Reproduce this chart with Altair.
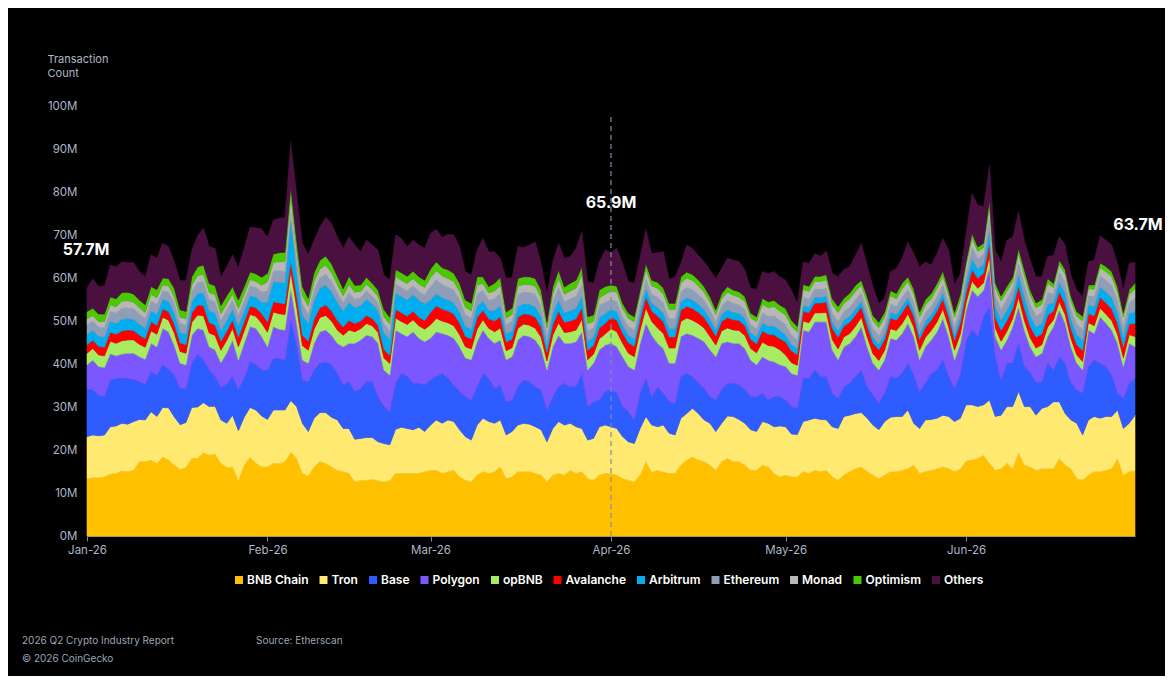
import altair as alt
import pandas as pd

# ---------------- data (values in millions) ----------------
dates = pd.date_range("2026-01-01", "2026-06-30", freq="D")

series_names = ["BNB Chain", "Tron", "Base", "Polygon", "opBNB", "Avalanche",
                "Arbitrum", "Ethereum", "Monad", "Optimism", "Others"]
series_colors = ["#FFC000", "#FFE970", "#2F5CFF", "#7B57FF", "#A6EB62", "#FF0000",
                 "#00AEEF", "#8E9DB8", "#B7B7B7", "#4CC800", "#4A1040"]

# top edge of the whole stack
total_top = [
    57.7, 59.8, 58.0, 58.2, 63.0, 62.6, 63.8, 63.6, 63.6, 61.5, 60.3, 65.4, 64.6, 68.1, 67.3, 63.8, 59.4, 59.4, 66.5, 69.8, 71.6, 67.3, 66.9, 60.3, 62.6, 65.4, 62.5, 66.9, 71.8, 71.7, 71.4,
    69.5, 73.5, 73.9, 74.1, 91.5, 79.7, 68.1, 65.4, 68.8, 71.9, 74.1, 72.7, 69.6, 66.9, 69.6, 67.7, 66.1, 68.8, 67.7, 66.5, 60.7, 59.6, 70.0, 69.2, 67.3, 68.8, 67.7, 66.9,
    70.4, 71.3, 69.5, 70.2, 70.0, 67.3, 61.5, 60.7, 66.5, 69.2, 66.1, 66.1, 64.6, 59.9, 60.1, 67.3, 67.1, 67.7, 68.4, 63.4, 56.4, 63.8, 68.1, 64.6, 65.0, 66.9, 70.8, 59.1, 58.8, 63.8, 66.5,
    65.9, 66.9, 63.4, 59.1, 58.8, 65.0, 71.3, 65.7, 65.9, 66.1, 59.7, 60.3, 63.4, 67.7, 66.9, 65.3, 63.8, 61.9, 59.9, 62.2, 64.6, 64.2, 63.8, 61.9, 57.6, 57.4, 61.5, 61.0, 61.5, 60.3,
    59.5, 57.2, 54.1, 63.8, 63.4, 65.7, 65.1, 66.3, 61.1, 60.3, 62.0, 62.6, 65.3, 68.1, 63.0, 58.0, 54.1, 55.3, 61.5, 62.2, 64.6, 68.4, 65.7, 62.6, 63.8, 63.0, 65.7, 69.2, 66.5, 58.5, 61.0,
    70.5, 79.7, 77.0, 76.6, 86.3, 66.5, 63.8, 68.8, 69.6, 75.4, 68.8, 64.2, 60.3, 60.3, 65.0, 65.3, 69.6, 67.7, 60.7, 57.2, 55.7, 63.8, 64.2, 69.8, 68.8, 67.7, 63.4, 57.2, 63.4, 63.7,
]
# top edges of the four big layers
bnb_top = [
    13.4, 13.6, 13.6, 13.8, 14.4, 14.6, 15.2, 15.0, 15.3, 17.3, 17.3, 17.7, 16.9, 18.4, 17.7, 16.5, 15.5, 16.0, 18.1, 18.1, 19.4, 18.8, 19.1, 16.9, 16.0, 16.1, 13.0, 16.5, 18.3, 17.0, 16.1,
    16.1, 16.9, 16.9, 17.3, 19.5, 18.1, 14.6, 14.0, 16.1, 17.3, 16.9, 16.1, 15.3, 15.0, 14.6, 12.6, 13.0, 13.0, 13.2, 12.9, 12.6, 12.9, 14.6, 14.6, 14.6, 14.6, 14.6, 15.0,
    15.3, 15.3, 14.6, 15.0, 15.3, 13.8, 13.0, 12.6, 14.2, 15.0, 14.6, 15.0, 16.1, 13.4, 13.8, 15.0, 15.0, 15.0, 14.6, 14.2, 12.6, 14.2, 14.6, 14.2, 15.3, 14.6, 15.0, 13.4, 13.0, 14.2, 14.6,
    14.6, 14.2, 13.4, 13.0, 12.6, 14.2, 17.3, 14.9, 15.3, 14.9, 14.6, 14.6, 16.5, 17.7, 18.4, 17.7, 17.3, 16.5, 15.3, 17.3, 18.1, 17.3, 17.3, 16.5, 15.3, 15.3, 16.5, 16.1, 14.6, 13.8,
    14.2, 13.8, 13.8, 15.0, 14.6, 15.3, 15.0, 15.3, 13.8, 13.0, 14.2, 15.0, 15.7, 16.1, 15.0, 14.2, 13.4, 14.2, 15.0, 15.0, 15.3, 15.7, 16.5, 14.6, 15.0, 15.3, 15.7, 16.1, 15.7, 15.0, 15.6,
    17.5, 17.7, 18.1, 18.8, 16.9, 15.3, 15.7, 16.9, 15.7, 19.4, 16.5, 16.1, 15.3, 15.7, 15.7, 15.7, 18.1, 16.5, 15.7, 13.4, 13.0, 14.2, 15.0, 15.0, 15.3, 15.7, 18.1, 14.2, 15.0, 15.3,
]
tron_top = [
    23.1, 23.5, 23.3, 23.5, 25.4, 25.6, 26.2, 26.0, 26.6, 27.1, 27.0, 28.9, 27.8, 29.9, 29.8, 27.7, 25.9, 26.4, 29.9, 30.0, 31.0, 30.1, 30.2, 27.0, 26.2, 28.1, 24.5, 27.6, 29.9, 29.3, 27.9,
    27.1, 29.3, 29.3, 29.3, 31.5, 30.1, 26.2, 24.3, 27.4, 28.7, 28.7, 27.6, 27.0, 25.0, 25.0, 22.5, 22.7, 22.9, 22.9, 21.9, 21.5, 21.2, 24.8, 25.3, 25.0, 24.7, 25.3, 24.3,
    25.8, 27.0, 26.2, 27.0, 26.6, 24.7, 23.1, 22.3, 25.8, 27.4, 26.6, 26.2, 27.0, 23.5, 24.3, 25.8, 26.2, 26.0, 25.4, 24.7, 21.9, 25.0, 26.6, 25.8, 26.2, 25.4, 25.0, 22.3, 22.7, 25.4, 25.8,
    25.4, 25.0, 23.1, 21.9, 21.5, 25.0, 27.8, 25.8, 25.4, 25.8, 23.9, 23.5, 27.4, 28.5, 29.7, 28.5, 27.0, 26.2, 24.3, 26.2, 27.9, 27.8, 27.1, 26.2, 24.7, 24.3, 26.6, 26.2, 25.4, 25.6,
    25.4, 23.7, 23.6, 26.6, 27.0, 27.4, 27.1, 27.0, 25.4, 25.0, 27.8, 28.1, 28.5, 28.7, 27.4, 25.8, 24.7, 26.6, 27.6, 27.8, 27.8, 29.3, 26.2, 25.0, 27.0, 27.1, 27.4, 28.1, 27.8, 26.6, 27.4,
    30.5, 30.5, 30.1, 30.5, 31.6, 27.8, 28.1, 30.1, 30.1, 33.6, 30.1, 30.1, 28.1, 29.7, 30.1, 31.2, 31.2, 28.5, 27.0, 26.2, 23.5, 27.0, 27.8, 27.4, 27.8, 27.8, 29.3, 25.0, 26.2, 28.1,
]
base_top = [
    34.2, 34.0, 32.8, 32.4, 36.3, 36.7, 36.7, 36.7, 36.4, 35.9, 35.3, 38.2, 37.4, 39.8, 38.8, 37.4, 34.3, 34.3, 40.2, 42.3, 40.9, 38.6, 37.1, 34.6, 35.3, 37.1, 34.1, 36.7, 40.5, 39.8, 38.6,
    38.6, 41.3, 41.3, 40.9, 50.2, 44.8, 36.3, 35.9, 38.6, 40.2, 40.5, 39.8, 37.8, 35.1, 35.9, 33.6, 34.3, 35.9, 35.9, 32.4, 30.1, 28.9, 35.5, 37.8, 37.1, 35.5, 35.5, 35.1,
    36.3, 37.1, 37.8, 36.7, 35.1, 33.6, 32.4, 31.6, 34.7, 37.8, 36.7, 34.3, 35.1, 31.2, 31.6, 34.7, 36.3, 35.9, 34.7, 34.0, 29.3, 32.4, 34.7, 35.5, 34.7, 34.7, 37.8, 30.1, 31.2, 31.6, 33.6,
    34.0, 33.2, 30.1, 28.9, 27.0, 33.2, 36.7, 32.4, 34.7, 33.2, 31.2, 30.9, 37.1, 37.8, 37.1, 35.5, 34.3, 32.4, 31.6, 34.0, 35.5, 35.5, 35.1, 34.0, 32.4, 32.4, 33.2, 31.6, 32.4, 32.4,
    31.6, 30.1, 29.7, 36.7, 36.7, 38.6, 37.1, 37.1, 33.2, 32.0, 34.7, 35.5, 37.1, 38.6, 34.7, 32.8, 30.9, 33.2, 37.1, 36.7, 37.8, 40.2, 37.4, 33.6, 35.5, 37.8, 38.6, 41.0, 37.1, 34.3, 37.5,
    45.5, 47.9, 46.4, 51.0, 53.3, 41.7, 36.3, 40.2, 40.2, 45.0, 39.5, 38.0, 35.7, 35.9, 40.2, 38.6, 41.7, 40.2, 35.5, 34.0, 33.2, 39.4, 40.9, 40.2, 39.4, 37.4, 33.2, 32.0, 35.5, 36.7,
]
polygon_top = [
    39.8, 40.9, 39.4, 39.2, 42.4, 41.9, 42.3, 42.5, 42.5, 41.7, 41.1, 44.8, 44.0, 48.3, 47.5, 44.3, 40.2, 39.8, 46.7, 48.3, 47.9, 44.0, 43.3, 40.3, 42.6, 45.6, 40.9, 44.8, 48.7, 48.3, 46.4,
    44.0, 48.7, 48.1, 47.9, 57.6, 49.5, 40.9, 40.2, 44.8, 47.5, 47.9, 46.7, 44.8, 44.0, 44.8, 44.8, 45.6, 46.7, 46.4, 44.8, 38.6, 37.4, 47.9, 47.1, 46.4, 47.5, 46.0, 45.2,
    46.0, 47.5, 47.1, 46.7, 46.0, 44.0, 41.4, 41.0, 45.2, 47.9, 46.0, 44.8, 45.6, 41.0, 41.7, 45.6, 46.7, 46.4, 45.6, 43.6, 38.6, 44.0, 46.7, 44.8, 44.8, 45.2, 47.5, 38.6, 40.2, 43.3, 44.4,
    44.8, 44.0, 41.7, 39.4, 38.6, 44.8, 49.5, 46.7, 44.8, 43.6, 40.2, 40.2, 46.4, 47.1, 46.7, 46.0, 45.2, 43.3, 41.7, 44.8, 45.2, 44.8, 44.8, 43.6, 40.9, 39.8, 41.7, 40.9, 40.5, 39.8,
    39.4, 37.8, 37.4, 47.9, 47.5, 49.8, 49.8, 49.8, 43.3, 41.0, 44.0, 44.8, 46.4, 48.7, 44.0, 40.2, 38.6, 41.0, 46.0, 45.6, 47.1, 49.5, 46.4, 41.0, 44.0, 45.6, 47.5, 50.6, 46.4, 41.0, 44.7,
    52.5, 57.2, 55.7, 57.2, 62.6, 46.4, 43.3, 45.6, 48.7, 53.3, 47.9, 44.0, 41.7, 42.5, 46.4, 48.7, 52.6, 49.5, 44.0, 40.2, 38.6, 47.9, 47.1, 51.0, 49.5, 47.9, 44.8, 39.4, 44.8, 44.0,
]
# thin layers (own thickness)
opbnb = [
    2.7, 2.7, 2.7, 2.7, 2.9, 2.9, 3.1, 3.1, 3.1, 2.9, 2.8, 2.9, 2.9, 2.6, 2.7, 2.9, 2.7, 2.7, 3.0, 3.1, 3.3, 3.2, 3.3, 2.9, 2.9, 2.7, 3.1, 2.9, 2.8, 2.8, 3.1,
    3.4, 3.4, 3.6, 3.6, 3.9, 3.9, 3.4, 3.0, 3.3, 3.3, 3.4, 3.3, 3.1, 2.7, 3.1, 2.7, 2.6, 2.7, 2.5, 2.5, 2.8, 2.7, 2.8, 2.8, 2.8, 2.8, 2.9, 2.9,
    3.1, 3.1, 2.9, 2.9, 2.9, 2.8, 2.6, 2.5, 2.9, 2.4, 2.3, 2.7, 2.8, 2.1, 2.1, 2.7, 2.6, 2.6, 2.7, 2.6, 2.1, 2.7, 2.9, 2.5, 2.7, 2.7, 2.9, 2.4, 2.1, 2.6, 2.6,
    3.4, 3.5, 3.1, 3.1, 3.1, 3.1, 3.5, 3.2, 3.6, 3.5, 3.5, 3.5, 3.5, 3.6, 3.5, 3.4, 3.2, 3.1, 2.7, 2.9, 3.2, 3.1, 3.0, 3.0, 2.7, 2.8, 3.4, 3.4, 3.6, 3.5,
    2.7, 2.5, 2.3, 2.1, 2.1, 2.1, 2.1, 2.2, 2.4, 2.5, 2.3, 2.3, 2.4, 2.2, 2.3, 2.2, 2.2, 2.2, 2.2, 2.2, 2.3, 2.2, 2.2, 2.2, 2.2, 2.2, 2.3, 2.2, 2.2, 2.2, 2.3,
    1.8, 2.1, 1.9, 1.7, 2.5, 2.0, 2.0, 2.0, 1.9, 2.2, 2.2, 2.1, 2.0, 2.0, 2.2, 1.6, 1.9, 2.0, 1.9, 1.9, 2.0, 1.7, 1.8, 2.0, 2.1, 2.2, 2.1, 2.0, 2.0, 2.4,
]
avalanche = [
    2.0, 1.9, 2.0, 2.0, 2.1, 2.1, 2.3, 2.3, 2.2, 2.1, 2.0, 2.1, 2.1, 1.9, 2.0, 2.1, 2.0, 2.0, 2.2, 2.3, 2.4, 2.4, 2.4, 2.1, 2.1, 2.0, 2.2, 2.1, 2.0, 2.0, 2.2,
    2.4, 2.4, 2.5, 2.5, 2.3, 2.7, 2.4, 2.1, 2.3, 2.3, 2.4, 2.3, 2.2, 1.9, 2.2, 1.9, 1.8, 1.9, 1.7, 1.7, 2.0, 1.9, 2.0, 2.0, 1.9, 2.0, 2.0, 2.0,
    2.9, 2.9, 2.8, 2.7, 2.7, 2.7, 2.4, 2.4, 2.7, 2.2, 2.2, 2.5, 2.6, 2.0, 2.0, 2.6, 2.4, 2.5, 2.6, 2.4, 2.0, 2.5, 2.7, 2.4, 2.5, 2.6, 2.7, 2.2, 2.0, 2.5, 2.4,
    2.6, 2.7, 2.4, 2.4, 2.4, 2.4, 2.6, 2.4, 2.7, 2.7, 2.6, 2.6, 2.6, 2.7, 2.7, 2.6, 2.4, 2.4, 2.1, 2.2, 2.4, 2.4, 2.3, 2.3, 2.1, 2.1, 2.6, 2.6, 2.7, 2.6,
    3.0, 2.7, 2.5, 2.3, 2.3, 2.3, 2.3, 2.4, 2.6, 2.7, 2.5, 2.6, 2.6, 2.4, 2.6, 2.5, 2.5, 2.5, 2.5, 2.4, 2.6, 2.4, 2.5, 2.5, 2.4, 2.4, 2.5, 2.4, 2.4, 2.4, 2.5,
    2.3, 2.6, 2.3, 2.2, 3.1, 2.5, 2.5, 2.5, 2.3, 2.7, 2.8, 2.6, 2.5, 2.5, 2.7, 2.0, 2.3, 2.5, 2.3, 2.4, 2.5, 2.1, 2.3, 2.5, 2.6, 2.7, 2.6, 2.5, 2.5, 3.0,
]
arbitrum = [
    2.4, 2.3, 2.3, 2.4, 2.5, 2.5, 2.7, 2.7, 2.6, 2.5, 2.4, 2.5, 2.5, 2.2, 2.4, 2.5, 2.4, 2.4, 2.6, 2.7, 2.9, 2.8, 2.8, 2.5, 2.5, 2.4, 2.7, 2.5, 2.4, 2.4, 2.6,
    4.6, 4.6, 4.8, 4.9, 10.0, 5.2, 4.6, 4.1, 4.4, 4.5, 4.6, 4.5, 4.2, 3.7, 4.2, 3.7, 3.5, 3.7, 3.3, 3.3, 3.8, 3.7, 3.8, 3.8, 3.8, 3.8, 3.9, 3.9,
    2.8, 2.8, 2.6, 2.6, 2.6, 2.5, 2.3, 2.2, 2.6, 2.1, 2.0, 2.4, 2.5, 1.9, 1.9, 2.4, 2.3, 2.4, 2.4, 2.3, 1.9, 2.4, 2.6, 2.2, 2.4, 2.4, 2.6, 2.1, 1.9, 2.4, 2.3,
    1.9, 2.0, 1.7, 1.7, 1.7, 1.7, 1.9, 1.8, 2.0, 2.0, 1.9, 1.9, 1.9, 2.0, 2.0, 1.9, 1.8, 1.7, 1.5, 1.6, 1.8, 1.7, 1.7, 1.7, 1.5, 1.6, 1.9, 1.9, 2.0, 1.9,
    1.6, 1.5, 1.4, 1.3, 1.3, 1.3, 1.3, 1.3, 1.4, 1.5, 1.4, 1.4, 1.4, 1.3, 1.4, 1.3, 1.3, 1.3, 1.3, 1.3, 1.4, 1.3, 1.3, 1.3, 1.3, 1.3, 1.4, 1.3, 1.3, 1.3, 1.4,
    2.2, 2.5, 2.2, 2.1, 2.9, 2.4, 2.4, 2.4, 2.2, 2.6, 2.7, 2.5, 2.4, 2.4, 2.6, 1.9, 2.2, 2.4, 2.2, 2.3, 2.4, 2.0, 2.1, 2.4, 2.5, 2.6, 2.5, 2.4, 2.4, 2.8,
]
ethereum = [
    2.2, 2.2, 2.2, 2.2, 2.4, 2.4, 2.6, 2.5, 2.5, 2.4, 2.3, 2.4, 2.4, 2.1, 2.2, 2.4, 2.2, 2.2, 2.4, 2.6, 2.7, 2.6, 2.7, 2.4, 2.4, 2.2, 2.5, 2.4, 2.3, 2.3, 2.5,
    2.6, 2.5, 2.7, 2.7, 1.8, 2.9, 2.6, 2.3, 2.4, 2.5, 2.6, 2.5, 2.3, 2.0, 2.3, 2.0, 1.9, 2.0, 1.9, 1.9, 2.1, 2.0, 2.1, 2.1, 2.1, 2.1, 2.1, 2.1,
    3.2, 3.3, 3.1, 3.0, 3.0, 3.0, 2.7, 2.6, 3.0, 2.5, 2.4, 2.8, 2.9, 2.2, 2.3, 2.9, 2.7, 2.8, 2.9, 2.7, 2.2, 2.8, 3.0, 2.6, 2.8, 2.9, 3.0, 2.5, 2.2, 2.8, 2.7,
    2.3, 2.4, 2.1, 2.1, 2.1, 2.1, 2.4, 2.2, 2.4, 2.4, 2.4, 2.4, 2.4, 2.4, 2.4, 2.3, 2.2, 2.1, 1.9, 2.0, 2.2, 2.1, 2.0, 2.1, 1.9, 1.9, 2.3, 2.3, 2.4, 2.4,
    2.4, 2.2, 2.0, 1.9, 1.9, 1.9, 1.9, 2.0, 2.2, 2.2, 2.0, 2.1, 2.2, 1.9, 2.1, 2.0, 2.0, 2.0, 2.0, 1.9, 2.1, 1.9, 2.0, 2.0, 2.0, 1.9, 2.0, 2.0, 1.9, 2.0, 2.1,
    2.4, 2.8, 2.4, 2.3, 3.3, 2.6, 2.6, 2.6, 2.4, 2.9, 2.9, 2.8, 2.6, 2.6, 2.8, 2.1, 2.4, 2.6, 2.5, 2.5, 2.6, 2.2, 2.4, 2.6, 2.8, 2.9, 2.8, 2.6, 2.6, 3.1,
]
monad = [
    1.4, 1.3, 1.3, 1.4, 1.5, 1.5, 1.6, 1.6, 1.5, 1.5, 1.4, 1.5, 1.5, 1.3, 1.4, 1.5, 1.4, 1.4, 1.5, 1.6, 1.7, 1.6, 1.6, 1.5, 1.5, 1.4, 1.5, 1.5, 1.4, 1.4, 1.5,
    2.1, 2.0, 2.1, 2.2, 3.3, 2.3, 2.1, 1.8, 2.0, 2.0, 2.1, 2.0, 1.9, 1.6, 1.9, 1.6, 1.5, 1.6, 1.5, 1.5, 1.7, 1.6, 1.7, 1.7, 1.7, 1.7, 1.7, 1.7,
    2.1, 2.1, 2.0, 2.0, 2.0, 1.9, 1.8, 1.7, 2.0, 1.6, 1.6, 1.8, 1.9, 1.5, 1.5, 1.9, 1.8, 1.8, 1.9, 1.8, 1.5, 1.8, 2.0, 1.7, 1.8, 1.9, 2.0, 1.6, 1.5, 1.8, 1.8,
    2.0, 2.1, 1.9, 1.9, 1.9, 1.9, 2.1, 1.9, 2.1, 2.1, 2.1, 2.1, 2.1, 2.2, 2.1, 2.0, 1.9, 1.9, 1.6, 1.7, 1.9, 1.9, 1.8, 1.8, 1.6, 1.7, 2.0, 2.0, 2.2, 2.1,
    2.3, 2.1, 1.9, 1.8, 1.8, 1.8, 1.8, 1.9, 2.0, 2.1, 1.9, 2.0, 2.0, 1.8, 2.0, 1.9, 1.9, 1.9, 1.9, 1.8, 2.0, 1.8, 1.9, 1.9, 1.9, 1.8, 1.9, 1.9, 1.8, 1.9, 1.9,
    1.7, 2.0, 1.7, 1.6, 2.3, 1.9, 1.9, 1.9, 1.7, 2.0, 2.1, 2.0, 1.9, 1.9, 2.0, 1.5, 1.7, 1.9, 1.8, 1.8, 1.9, 1.6, 1.7, 1.9, 2.0, 2.0, 2.0, 1.9, 1.9, 2.2,
]
optimism = [
    1.7, 1.7, 1.7, 1.7, 1.8, 1.9, 2.0, 2.0, 1.9, 1.8, 1.8, 1.8, 1.9, 1.6, 1.7, 1.9, 1.7, 1.7, 1.9, 2.0, 2.1, 2.1, 2.1, 1.9, 1.9, 1.7, 2.0, 1.8, 1.8, 1.8, 1.9,
    2.0, 2.0, 2.1, 2.2, 2.3, 2.3, 2.0, 1.8, 2.0, 2.0, 2.1, 2.0, 1.9, 1.6, 1.9, 1.6, 1.5, 1.6, 1.5, 1.5, 1.7, 1.6, 1.7, 1.7, 1.7, 1.7, 1.7, 1.7,
    2.0, 2.1, 1.9, 2.0, 1.9, 1.9, 1.7, 1.7, 1.9, 1.6, 1.5, 1.8, 1.9, 1.4, 1.5, 1.8, 1.8, 1.8, 1.8, 1.8, 1.4, 1.8, 1.9, 1.7, 1.8, 1.8, 1.9, 1.6, 1.5, 1.8, 1.8,
    1.4, 1.4, 1.2, 1.2, 1.2, 1.2, 1.4, 1.3, 1.4, 1.4, 1.4, 1.4, 1.4, 1.4, 1.4, 1.4, 1.3, 1.2, 1.1, 1.2, 1.3, 1.2, 1.2, 1.2, 1.1, 1.1, 1.4, 1.4, 1.4, 1.4,
    1.5, 1.4, 1.2, 1.2, 1.2, 1.2, 1.2, 1.2, 1.3, 1.4, 1.2, 1.3, 1.3, 1.2, 1.3, 1.2, 1.2, 1.2, 1.2, 1.2, 1.3, 1.2, 1.2, 1.2, 1.2, 1.2, 1.2, 1.2, 1.2, 1.2, 1.3,
    1.0, 1.2, 1.0, 1.0, 1.4, 1.1, 1.1, 1.1, 1.0, 1.2, 1.3, 1.2, 1.1, 1.1, 1.2, 0.9, 1.0, 1.1, 1.1, 1.1, 1.1, 0.9, 1.0, 1.1, 1.2, 1.2, 1.2, 1.1, 1.1, 1.3,
]

callouts = [("2026-01-01", "57.7M"), ("2026-04-01", "65.9M"), ("2026-06-30", "63.7M")]

arrays = [total_top, bnb_top, tron_top, base_top, polygon_top,
          opbnb, avalanche, arbitrum, ethereum, monad, optimism]
for a in arrays:
    assert len(a) == len(dates), len(a)

# ---------------- per-series values from the stack edges ----------------
rows = []
for i, d in enumerate(dates):
    minor = [opbnb[i], avalanche[i], arbitrum[i], ethereum[i], monad[i], optimism[i]]
    vals = [
        bnb_top[i],
        tron_top[i] - bnb_top[i],
        base_top[i] - tron_top[i],
        polygon_top[i] - base_top[i],
    ] + minor + [total_top[i] - polygon_top[i] - sum(minor)]
    for k, (name, v) in enumerate(zip(series_names, vals)):
        rows.append({"date": d, "series": name, "value": round(v, 2), "order": k})
df = pd.DataFrame(rows)

FONT = "Inter"
LABEL = "#aeb7c8"

color_scale = alt.Scale(domain=series_names, range=series_colors)

areas = alt.Chart(df).mark_area(interpolate="linear", strokeWidth=0.6).encode(
    x=alt.X(
        "date:T",
        scale=alt.Scale(domain=[alt.DateTime(year=2026, month=1, date=1),
                                alt.DateTime(year=2026, month=6, date=30)], nice=False),
        axis=alt.Axis(
            title=None, format="%b-%y", grid=False, labelFlush=False,
            values=[alt.DateTime(year=2026, month=m, date=1) for m in range(1, 7)],
            domainColor="#7d889c", tickColor="#7d889c", tickSize=5,
            labelColor=LABEL, labelFont=FONT, labelFontSize=11.5, labelPadding=3,
        ),
    ),
    y=alt.Y(
        "value:Q", stack="zero",
        scale=alt.Scale(domain=[0, 100], nice=False),
        axis=alt.Axis(
            values=list(range(0, 101, 10)), labelExpr="datum.value + 'M'",
            grid=False, domain=False, ticks=False,
            labelColor=LABEL, labelFont=FONT, labelFontSize=11.5, labelPadding=10,
            title=["Transaction", "Count"], titleColor=LABEL, titleFont=FONT,
            titleFontSize=11, titleFontWeight="normal", titleAngle=0,
            titleAlign="left", titleBaseline="top", titleX=-40, titleY=-53,
            titleLineHeight=14,
        ),
    ),
    color=alt.Color(
        "series:N", scale=color_scale,
        legend=alt.Legend(
            title=None, orient="none", legendX=146, legendY=468,
            direction="horizontal", columns=11, symbolType="square",
            symbolSize=64, symbolStrokeWidth=0, symbolOpacity=1,
            labelColor="#ffffff", labelFont=FONT, labelFontSize=12,
            labelFontWeight=600, labelOffset=2, columnPadding=8.5,
        ),
    ),
    stroke=alt.Stroke("series:N", scale=color_scale, legend=None),
    order=alt.Order("order:Q", sort="ascending"),
)

one = pd.DataFrame({"k": [0]})

divider = alt.Chart(one).mark_rule(color="#7f8ea8", strokeDash=[5, 4], strokeWidth=1.2).encode(
    x=alt.datum(alt.DateTime(year=2026, month=4, date=1)),
    y=alt.datum(0),
    y2=alt.datum(98.4),
)

callout_layers = []
callout_pos = [(66.4, -1), (77.4, 0), (72.3, 3)]
for (day, text), (ypos, dx) in zip(callouts, callout_pos):
    y_, m_, d_ = [int(p) for p in day.split("-")]
    callout_layers.append(
        alt.Chart(one).mark_text(
            font=FONT, fontSize=16, fontWeight="bold", color="#ffffff",
            align="center", baseline="middle", dx=dx,
        ).encode(
            x=alt.datum(alt.DateTime(year=y_, month=m_, date=d_)),
            y=alt.datum(ypos),
            text=alt.value(text),
        )
    )

def footer(txt, px, py):
    return alt.Chart(one).mark_text(
        font=FONT, fontSize=10, color="#9ba5b7", align="left", baseline="middle",
    ).encode(x=alt.value(px), y=alt.value(py), text=alt.value(txt))

chart = alt.layer(
    areas, divider, *callout_layers,
    footer("2026 Q2 Crypto Industry Report", -65, 535),
    footer("Source: Etherscan", 169, 535),
    footer("\u00a9 2026 CoinGecko", -65, 553),
).properties(
    width=1048, height=430,
    background="#000000",
    padding={"left": 79, "top": 98, "right": 30, "bottom": 140},
    autosize=alt.AutoSizeParams(type="none"),
).configure_view(stroke=None)

chart.save("out.html", embed_options={"renderer": "svg", "actions": False})
